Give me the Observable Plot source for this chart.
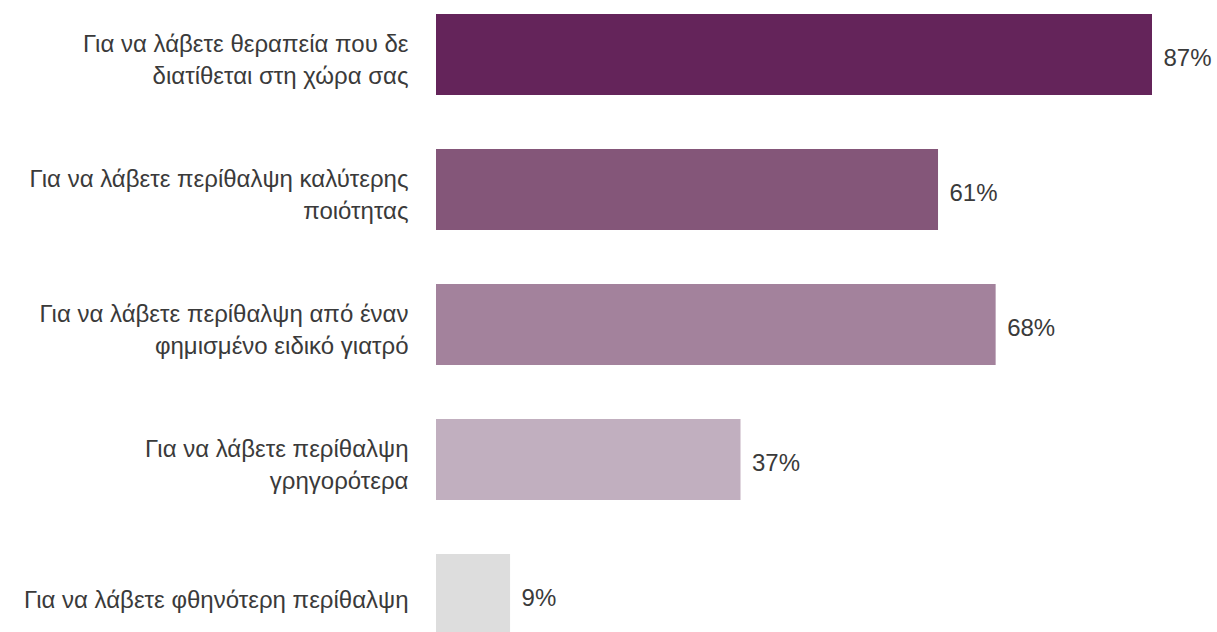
<!DOCTYPE html>
<html>
<head>
<meta charset="utf-8">
<script src="https://cdn.jsdelivr.net/npm/d3@7"></script>
<script src="https://cdn.jsdelivr.net/npm/@observablehq/plot@0.6"></script>
<style>
  html, body { margin: 0; padding: 0; background: #fff; overflow: hidden; }
  #chart svg { display: block; }
</style>
</head>
<body>
<div id="chart"></div>
<script>
const categories = [
  "Για να λάβετε θεραπεία που δε\nδιατίθεται στη χώρα σας",
  "Για να λάβετε περίθαλψη καλύτερης\nποιότητας",
  "Για να λάβετε περίθαλψη από έναν\nφημισμένο ειδικό γιατρό",
  "Για να λάβετε περίθαλψη\nγρηγορότερα",
  "Για να λάβετε φθηνότερη περίθαλψη"
];
const values = [87, 61, 68, 37, 9];
const colors = ["#64245a", "#845679", "#a3829c", "#c1afbf", "#dddddd"];

const data = categories.map((c, i) => ({ category: c, value: values[i], color: colors[i] }));

const chart = Plot.plot({
  width: 1217,
  height: 640,
  marginLeft: 436,
  marginRight: 65,
  marginTop: 12,
  marginBottom: 2,
  style: { fontFamily: "'Liberation Sans', Arial, sans-serif", color: "#3a3a3a" },
  x: { domain: [0, 87], axis: null },
  y: { domain: categories, axis: null, paddingInner: 0.397, paddingOuter: 0 },
  marks: [
    Plot.barX(data, { y: "category", x: "value", fill: "color" }),
    Plot.text(data, {
      y: "category", x: 0, text: "category", textAnchor: "end", dx: -28, dy: 3,
      fontSize: 24, lineHeight: 1.3, fill: "#3a3a3a"
    }),
    Plot.text(data, {
      y: "category", x: "value", text: d => d.value + "%", textAnchor: "start", dx: 11, dy: 3,
      fontSize: 24, fill: "#3a3a3a"
    })
  ]
});
document.getElementById("chart").appendChild(chart);
</script>
</body>
</html>
